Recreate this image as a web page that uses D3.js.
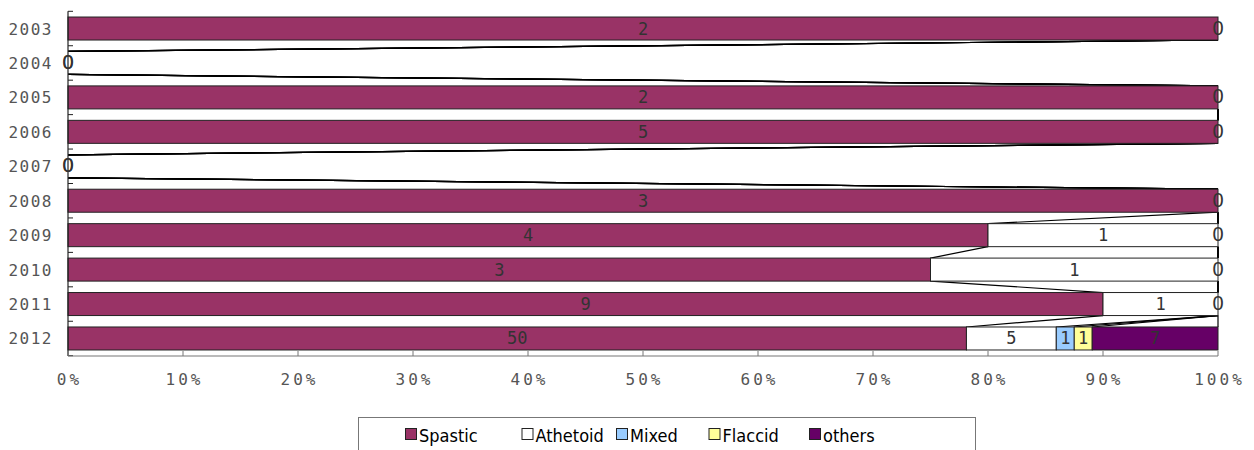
<!DOCTYPE html>
<html><head><meta charset="utf-8">
<script src="https://cdn.jsdelivr.net/npm/d3@7"></script>
<style>body{margin:0;background:#fff}svg{display:block}</style>
</head><body>
<svg id="chart" width="1254" height="450"></svg>
<script>
const years = ["2003","2004","2005","2006","2007","2008","2009","2010","2011","2012"];
const seriesNames = ["Spastic","Athetoid","Mixed","Flaccid","others"];
const spastic  = [2,0,2,5,0,3,4,3,9,50];
const athetoid = [0,0,0,0,0,0,1,1,1,5];
const mixed    = [0,0,0,0,0,0,0,0,0,1];
const flaccid  = [0,0,0,0,0,0,0,0,0,1];
const others   = [0,0,0,0,0,0,0,0,0,7];
const seriesValues = [spastic, athetoid, mixed, flaccid, others];
const colors = ["#993366","#ffffff","#99ccff","#ffff99","#660066"];
const tickLabels = ["0%","10%","20%","30%","40%","50%","60%","70%","80%","90%","100%"];

const svg = d3.select("#chart");
const x = d3.scaleLinear().domain([0,1]).range([68,1218]);
const y = d3.scaleBand().domain(years).range([11.3,355.7]).paddingInner(0.332).paddingOuter(0.166);

const rows = years.map((yr,i)=>{
  const vals = seriesValues.map(s=>s[i]);
  const total = d3.sum(vals);
  let acc = 0;
  const segs = vals.map((v,k)=>{
    const x0 = total ? acc/total : 0;
    acc += v;
    const x1 = total ? acc/total : 0;
    return {year:yr, series:k, value:v, x0, x1};
  });
  return {year:yr, segs};
});

// series lines
const lines = [];
for (let i=0;i<rows.length-1;i++){
  for (let k=0;k<seriesNames.length;k++){
    lines.push({xa:rows[i].segs[k].x1, ya:y(rows[i].year)+y.bandwidth(), xb:rows[i+1].segs[k].x1, yb:y(rows[i+1].year)});
  }
}
svg.append("g").selectAll("line").data(lines).join("line")
  .attr("x1",d=>x(d.xa)).attr("y1",d=>d.ya).attr("x2",d=>x(d.xb)).attr("y2",d=>d.yb)
  .attr("stroke","#000").attr("stroke-width",1.2);

// bars
const allSegs = rows.flatMap(r=>r.segs);
svg.append("g").selectAll("rect").data(allSegs.filter(d=>d.x1>d.x0)).join("rect")
  .attr("x",d=>x(d.x0)).attr("y",d=>y(d.year))
  .attr("width",d=>x(d.x1)-x(d.x0)).attr("height",y.bandwidth())
  .attr("fill",d=>colors[d.series]).attr("stroke","#222").attr("stroke-width",1);

// axes
const axisG = svg.append("g");
axisG.append("line").attr("x1",68).attr("x2",68).attr("y1",11.3).attr("y2",356).attr("stroke","#222").attr("stroke-width",1.2);
const bounds = years.map(yr=>y(yr)-y.step()*y.paddingInner()/2).concat([355.7]);
axisG.selectAll("line.yt").data(bounds).join("line").attr("class","yt")
  .attr("x1",68).attr("x2",73).attr("y1",d=>d).attr("y2",d=>d).attr("stroke","#222");
axisG.append("line").attr("x1",68).attr("x2",1218).attr("y1",356).attr("y2",356).attr("stroke","#777").attr("stroke-width",1.2);
axisG.selectAll("line.xt").data(tickLabels).join("line").attr("class","xt")
  .attr("x1",(d,i)=>x(i/10)).attr("x2",(d,i)=>x(i/10)).attr("y1",351).attr("y2",356).attr("stroke","#777");
axisG.selectAll("text.xl").data(tickLabels).join("text").attr("class","xl")
  .attr("x",(d,i)=>x(i/10)+1.5).attr("y",385).attr("text-anchor","middle")
  .attr("font-family","DejaVu Sans Mono").attr("font-size",16).attr("letter-spacing","3px")
  .attr("fill","#555").text(d=>d);
axisG.selectAll("text.yl").data(years).join("text").attr("class","yl")
  .attr("x",53).attr("y",d=>y(d)+y.bandwidth()/2+6).attr("text-anchor","end")
  .attr("font-family","DejaVu Sans Mono").attr("font-size",16).attr("letter-spacing","1.5px")
  .attr("fill","#555").text(d=>d);

// value labels
svg.append("g").selectAll("text").data(allSegs.filter(d=>d.value>0 || d.series===0 || d.series===seriesNames.length-1)).join("text")
  .attr("x",d=>x((d.x0+d.x1)/2)).attr("y",d=>y(d.year)+y.bandwidth()/2+6)
  .attr("text-anchor","middle")
  .attr("font-family",d=>d.value===0?"Liberation Sans Narrow, Liberation Sans":"DejaVu Sans Mono")
  .attr("font-size",d=>d.value===0?20:17)
  .attr("fill","#333").text(d=>d.value);

// legend
const leg = svg.append("g");
leg.append("rect").attr("x",358.5).attr("y",417.5).attr("width",617).attr("height",50)
  .attr("fill","#fff").attr("stroke","#777");
const legX = [405,521.5,616,708.5,809];
const items = leg.selectAll("g").data(seriesNames).join("g").attr("transform",(d,i)=>`translate(${legX[i]},0)`);
items.append("rect").attr("x",0.5).attr("y",428.5).attr("width",11).attr("height",11)
  .attr("fill",(d,i)=>colors[i]).attr("stroke","#222");
items.append("text").attr("x",14).attr("y",441.5).attr("font-family","DejaVu Sans Condensed").attr("font-size",18)
  .attr("fill","#000").text(d=>d);
</script>
</body></html>
